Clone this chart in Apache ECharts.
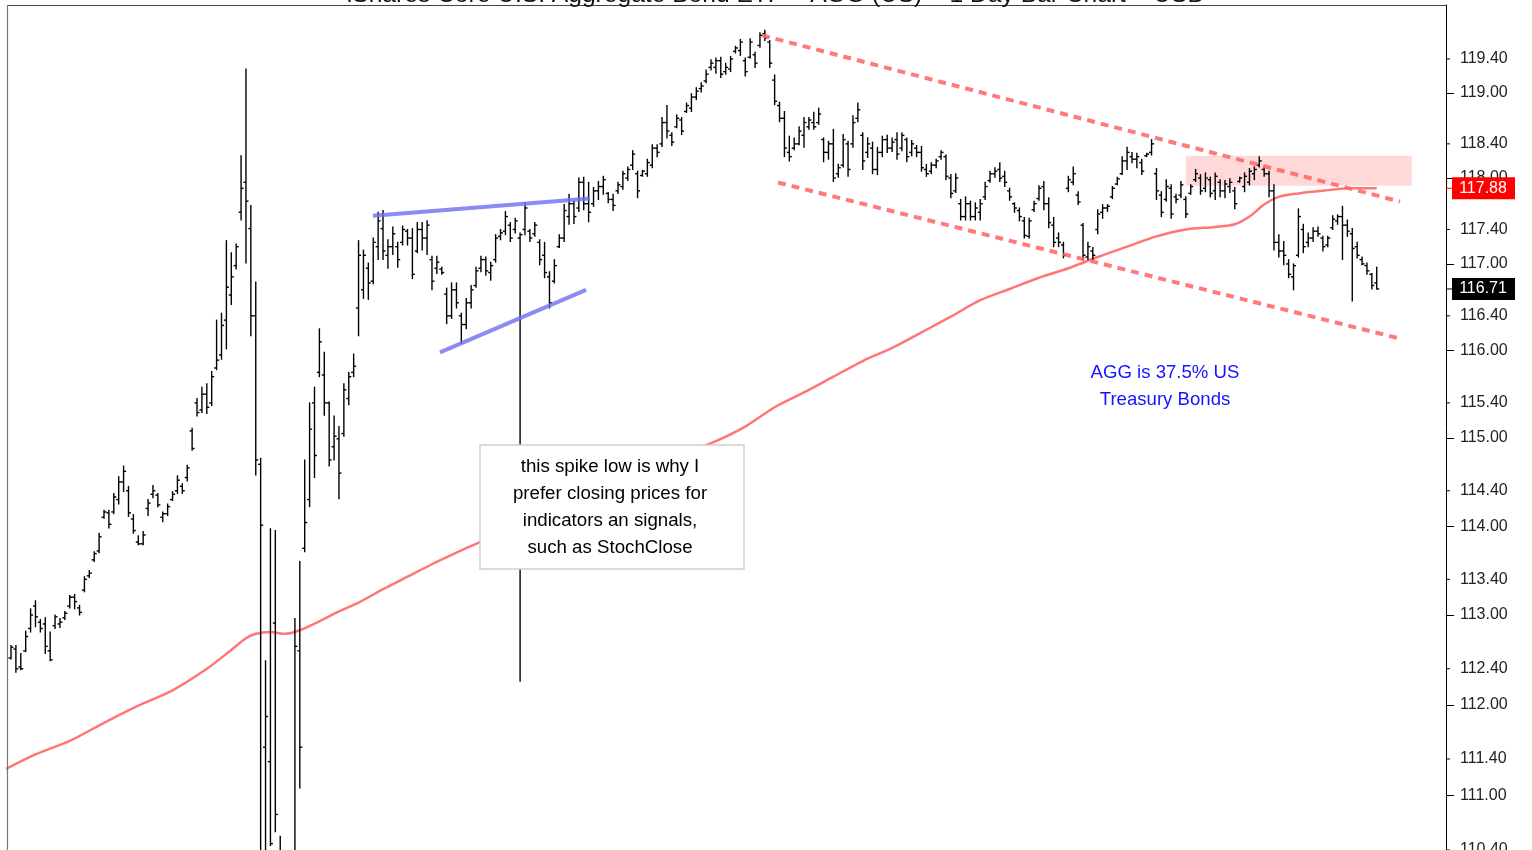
<!DOCTYPE html>
<html><head><meta charset="utf-8">
<script src="https://cdn.jsdelivr.net/npm/echarts@6/dist/echarts.min.js"></script>
<style>html,body{margin:0;padding:0;background:#fff}#main{width:1532px;height:850px}</style>
</head><body><div id="main"></div>
<script>
// ---- daily OHLC bars (USD) ----
const opens = [112.52,112.62,112.42,112.60,112.85,113.10,112.92,112.90,112.60,112.88,112.90,112.97,113.10,113.20,113.08,113.28,113.44,113.62,113.72,114.10,
114.15,114.16,114.30,114.50,114.40,114.08,113.82,113.80,114.20,114.36,114.35,114.10,114.14,114.30,114.40,114.45,114.55,115.08,115.40,115.32,
115.50,115.40,115.80,115.95,116.35,116.64,116.98,117.60,117.95,117.41,116.40,114.70,111.53,111.37,112.91,110.30,108.00,107.00,108.50,112.60,
113.75,114.30,115.40,115.75,115.72,115.40,114.90,114.99,115.05,115.45,115.75,116.49,116.70,116.95,116.80,117.20,117.41,117.10,117.20,117.20,
117.25,117.38,117.30,117.15,117.40,117.30,117.05,116.95,116.94,116.65,116.40,116.70,116.40,116.30,116.55,116.75,116.95,117.05,116.90,117.05,
117.32,117.38,117.45,117.40,117.30,117.40,117.38,117.35,117.25,117.10,116.85,116.80,117.20,117.30,117.55,117.70,117.65,117.95,117.70,117.70,
117.85,117.90,117.82,117.75,117.85,117.90,118.00,118.15,118.05,118.03,118.05,118.15,118.35,118.40,118.65,118.50,118.60,118.68,118.78,118.82,
118.95,119.05,119.14,119.30,119.30,119.38,119.25,119.28,119.49,119.50,119.38,119.42,119.45,119.56,119.70,119.60,119.15,118.85,118.70,118.30,
118.35,118.40,118.50,118.60,118.65,118.65,118.45,118.30,118.40,118.05,118.15,118.40,118.40,118.70,118.50,118.30,118.35,118.10,118.30,118.45,
118.35,118.45,118.35,118.45,118.30,118.35,118.30,118.10,118.08,118.15,118.25,118.25,118.00,117.85,117.70,117.55,117.70,117.55,117.60,117.78,
117.97,118.05,118.10,118.02,117.85,117.70,117.62,117.50,117.32,117.63,117.76,117.90,117.70,117.45,117.30,117.22,117.88,117.95,117.80,117.45,
117.08,117.15,117.40,117.60,117.65,117.78,117.93,118.05,118.20,118.25,118.22,118.18,118.26,118.30,118.05,117.80,117.75,117.88,117.78,117.80,
117.75,117.82,117.98,118.00,117.88,117.98,117.85,117.95,117.85,117.90,117.85,117.96,117.90,117.95,118.05,118.15,118.10,118.05,117.85,117.25,
117.15,117.00,116.85,117.10,117.40,117.25,117.30,117.38,117.30,117.22,117.42,117.50,117.55,117.45,117.35,117.20,117.05,116.98,116.88,116.78];
const highs = [112.66,112.66,112.57,112.82,113.07,113.16,112.95,112.97,112.81,113.00,112.96,113.04,113.22,113.23,113.11,113.43,113.50,113.71,113.92,114.18,
114.18,114.37,114.56,114.68,114.45,114.13,113.89,113.94,114.30,114.46,114.37,114.16,114.25,114.39,114.57,114.48,114.69,115.11,115.45,115.58,
115.62,115.76,116.35,116.43,117.27,117.13,117.23,118.26,119.28,117.68,116.79,114.77,112.49,113.97,113.95,110.55,110.00,109.50,112.96,113.60,
114.75,115.40,115.58,116.25,115.98,115.41,115.25,115.13,115.62,115.75,115.96,117.27,117.16,117.01,117.30,117.60,117.62,117.28,117.43,117.25,
117.44,117.40,117.41,117.48,117.48,117.50,117.09,117.09,116.96,116.72,116.78,116.78,116.43,116.60,116.75,116.96,117.09,117.08,117.02,117.34,
117.40,117.61,117.48,117.53,117.36,117.71,117.40,117.48,117.28,117.25,116.91,117.05,117.34,117.69,117.81,117.73,118.00,118.01,117.95,117.89,
117.96,118.02,117.83,117.81,117.95,118.08,118.13,118.32,118.08,118.09,118.22,118.39,118.39,118.71,118.85,118.53,118.74,118.71,118.88,118.99,
119.06,119.12,119.27,119.39,119.41,119.42,119.35,119.43,119.55,119.63,119.41,119.64,119.48,119.71,119.74,119.62,119.21,118.89,118.78,118.49,
118.47,118.60,118.71,118.71,118.77,118.82,118.47,118.43,118.57,118.16,118.51,118.43,118.73,118.88,118.53,118.47,118.42,118.36,118.49,118.50,
118.47,118.53,118.53,118.47,118.44,118.38,118.37,118.16,118.18,118.22,118.32,118.27,118.04,118.05,117.75,117.78,117.73,117.71,117.75,117.95,
118.08,118.12,118.18,118.08,117.88,117.71,117.65,117.54,117.53,117.73,117.91,117.96,117.77,117.54,117.36,117.25,118.02,118.13,117.84,117.47,
117.25,117.19,117.63,117.69,117.69,117.90,118.01,118.25,118.36,118.30,118.29,118.22,118.29,118.45,118.11,117.84,117.98,117.92,117.81,117.96,
117.78,117.92,118.10,118.04,118.06,118.01,118.06,117.98,117.97,117.99,117.89,118.01,118.06,118.11,118.13,118.25,118.13,118.08,117.92,117.34,
117.26,117.05,117.00,117.64,117.46,117.36,117.42,117.43,117.32,117.32,117.56,117.57,117.67,117.51,117.41,117.25,117.08,117.01,116.89,116.96];
const lows = [112.51,112.36,112.39,112.59,112.81,112.87,112.81,112.57,112.49,112.85,112.86,112.95,113.08,113.07,113.00,113.26,113.42,113.60,113.70,114.09,
113.98,114.14,114.25,114.39,114.11,113.92,113.79,113.79,114.12,114.32,114.22,114.05,114.12,114.29,114.37,114.37,114.51,114.86,115.25,115.29,
115.28,115.37,115.78,115.90,116.02,116.53,116.94,117.51,117.01,116.17,114.58,109.00,109.30,110.45,110.60,106.00,102.50,101.50,107.00,111.08,
113.71,114.22,114.55,115.70,115.26,114.68,114.75,114.31,115.02,115.38,115.70,116.17,116.60,116.59,116.77,117.05,117.05,116.95,117.11,116.96,
117.22,117.22,116.83,117.13,117.16,117.11,116.70,116.89,116.88,116.31,116.37,116.49,116.08,116.25,116.49,116.73,116.91,116.87,116.81,117.02,
117.28,117.34,117.26,117.36,112.26,117.34,117.26,117.32,116.99,116.84,116.49,116.78,117.19,117.26,117.46,117.47,117.61,117.63,117.49,117.67,
117.75,117.81,117.71,117.62,117.82,117.87,117.97,118.10,117.77,118.02,118.02,118.12,118.25,118.37,118.47,118.38,118.59,118.51,118.77,118.78,
118.92,119.01,119.12,119.27,119.23,119.18,119.22,119.25,119.47,119.44,119.20,119.41,119.30,119.54,119.62,119.30,118.86,118.66,118.25,118.20,
118.33,118.39,118.36,118.57,118.57,118.63,118.19,118.22,117.96,118.01,118.13,118.02,118.36,118.66,118.10,118.24,118.05,118.04,118.25,118.30,
118.31,118.22,118.32,118.19,118.26,118.25,118.08,118.02,118.05,118.12,118.22,117.98,117.77,117.83,117.51,117.51,117.51,117.51,117.51,117.75,
117.95,118.01,117.96,117.90,117.74,117.60,117.50,117.30,117.30,117.61,117.74,117.63,117.42,117.20,117.20,117.07,117.84,117.92,117.69,117.05,
117.05,117.05,117.35,117.53,117.61,117.76,117.92,118.04,118.10,118.18,118.12,118.04,118.25,118.27,117.75,117.55,117.73,117.53,117.71,117.77,
117.54,117.81,117.96,117.81,117.84,117.78,117.75,117.78,117.77,117.83,117.64,117.95,117.84,117.92,117.98,118.13,118.02,117.78,117.16,117.08,
116.99,116.84,116.70,117.08,117.13,117.20,117.26,117.32,117.15,117.20,117.40,117.46,117.05,117.32,116.57,117.07,116.99,116.88,116.71,116.71];
const closes = [112.64,112.40,112.40,112.76,113.00,112.98,112.85,112.65,112.50,112.98,112.92,113.02,113.20,113.15,113.03,113.40,113.47,113.69,113.88,114.16,
114.02,114.33,114.50,114.62,114.15,113.95,113.80,113.90,114.26,114.40,114.24,114.14,114.22,114.36,114.52,114.40,114.66,114.88,115.29,115.50,
115.35,115.70,115.89,116.29,116.73,116.85,117.20,117.88,117.73,116.40,114.75,114.01,111.87,110.47,110.79,107.50,107.00,106.50,112.65,111.53,
114.04,115.10,114.80,116.10,115.40,114.75,115.02,114.60,115.55,115.70,115.82,117.10,117.10,116.78,117.25,117.50,117.15,117.20,117.35,117.05,
117.40,117.30,116.88,117.40,117.30,117.45,116.80,117.02,116.90,116.40,116.70,116.55,116.30,116.55,116.70,116.92,117.05,116.92,116.98,117.30,
117.36,117.55,117.30,117.50,117.34,117.65,117.30,117.45,117.05,116.90,116.55,116.98,117.30,117.62,117.70,117.55,117.95,117.70,117.60,117.85,
117.90,117.98,117.75,117.68,117.92,118.05,118.10,118.28,117.85,118.08,118.18,118.35,118.30,118.65,118.55,118.42,118.70,118.55,118.85,118.95,
119.02,119.08,119.22,119.35,119.38,119.22,119.30,119.40,119.53,119.60,119.25,119.60,119.35,119.68,119.65,119.35,118.90,118.70,118.35,118.25,
118.40,118.55,118.65,118.68,118.60,118.75,118.30,118.40,118.00,118.12,118.45,118.10,118.65,118.80,118.20,118.40,118.10,118.30,118.45,118.35,
118.42,118.28,118.50,118.25,118.40,118.30,118.12,118.05,118.15,118.20,118.30,118.02,117.82,118.00,117.55,117.70,117.55,117.65,117.70,117.90,
118.05,118.08,118.00,117.95,117.78,117.65,117.55,117.33,117.50,117.70,117.88,117.70,117.48,117.25,117.25,117.10,117.98,118.05,117.72,117.10,
117.20,117.10,117.58,117.65,117.67,117.88,117.99,118.20,118.30,118.22,118.25,118.08,118.28,118.40,117.85,117.60,117.90,117.58,117.75,117.92,
117.58,117.90,118.05,117.85,118.00,117.82,118.02,117.85,117.93,117.95,117.70,118.00,118.02,118.08,118.10,118.20,118.05,117.85,117.25,117.15,
117.10,116.88,116.98,117.55,117.20,117.30,117.38,117.35,117.20,117.30,117.52,117.55,117.45,117.38,117.18,117.10,117.00,116.92,116.75,116.71];

// ---- moving average (red line), sampled at bar indices ----
const maIndex = [-1,5,12,19,26,33,40,45,48,50,53,56,59,63,67,71,76,81,86,91,95,100,106,112,118,124,130,136,143,150,156,162,168,174,180,186,192,198,204,210,216,222,228,234,240,246,250,253,256,259,263,268,273,279];
const maValues = [111.29,111.45,111.60,111.80,111.99,112.16,112.40,112.61,112.74,112.79,112.81,112.79,112.83,112.93,113.04,113.14,113.29,113.43,113.57,113.70,113.80,113.92,114.06,114.21,114.36,114.50,114.65,114.80,114.94,115.13,115.35,115.52,115.70,115.88,116.03,116.21,116.39,116.58,116.71,116.84,116.95,117.08,117.20,117.32,117.40,117.43,117.46,117.55,117.69,117.78,117.82,117.85,117.88,117.88];

// ---- axis tick labels ----
const majorTicks = [111,112,113,114,115,116,117,118,119];
const minorTicks = [110.4,111.4,112.4,113.4,114.4,115.4,116.4,117.4,118.4,119.4];

// ---- drawn annotations: [barIndex, price] ----
const blueUpper = [[73.95,117.56],[118.28,117.76]];
const blueLower = [[87.64,115.98],[117.47,116.70]];
const redUpper  = [[153.42,119.68],[283.76,117.725]];
const redLower  = [[156.69,117.947],[283.15,116.146]];
const resistZone = [[240,118.26],[286.15,117.91]];

const titleText = 'iShares Core U.S. Aggregate Bond ETF \u2013 AGG (US) \u2013 1 Day Bar Chart \u2013 USD';
const noteLines = ['this spike low is why I','prefer closing prices for','indicators an signals,','such as StochClose'];
const blueNote = 'AGG is 37.5% US\nTreasury Bonds';

const LN = Math.log;
const FONT = '"Liberation Sans", Arial, Helvetica, sans-serif';
const barData = opens.map((o,i)=>[i, LN(o), LN(highs[i]), LN(lows[i]), LN(closes[i])]);
const maData = maIndex.map((x,i)=>[x, LN(maValues[i])]);
const seg = (s, ls) => [{coord:[s[0][0], LN(s[0][1])], lineStyle:ls},{coord:[s[1][0], LN(s[1][1])]}];

const yMin = LN(110.40), yMax = LN(120.04);

function renderOHLC(params, api){
  const i = api.value(0);
  const pO = api.coord([i, api.value(1)]);
  const pH = api.coord([i, api.value(2)]);
  const pL = api.coord([i, api.value(3)]);
  const pC = api.coord([i, api.value(4)]);
  const x = pH[0];
  const st = {stroke:'#000', lineWidth:1.4};
  return {type:'group', children:[
    {type:'line', shape:{x1:x, y1:pH[1]-0.5, x2:x, y2:pL[1]+0.5}, style:st},
    {type:'line', shape:{x1:x-2.5, y1:pO[1], x2:x, y2:pO[1]}, style:st},
    {type:'line', shape:{x1:x, y1:pC[1], x2:x+2.5, y2:pC[1]}, style:st}
  ]};
}

const blueStyle = {color:'rgba(110,110,240,0.8)', width:4, type:'solid'};
const redStyle = {color:'rgba(255,100,100,0.85)', width:4, type:[8,6]};

const chart = echarts.init(document.getElementById('main'), null, {renderer:'canvas'});
chart.setOption({
  animation:false,
  backgroundColor:'#fff',
  grid:{left:7, top:5, width:1439, height:845, show:false, containLabel:false, outerBoundsMode:'none'},
  xAxis:{type:'value', min:-0.817, max:293.15, show:false},
  yAxis:{type:'value', position:'right', min:yMin, max:yMax, scale:true,
     axisLine:{show:true, onZero:false, lineStyle:{color:'#000', width:1}},
     axisTick:{show:true, length:8, customValues:majorTicks.map(LN), lineStyle:{color:'#000'}},
     axisLabel:{show:true, customValues:majorTicks.concat(minorTicks).map(LN), formatter:v=>Math.exp(v).toFixed(2),
       margin:14, color:'#222', fontSize:16, fontFamily:FONT, padding:[3,0,0,0]},
     splitLine:{show:false}},
  series:[
    {type:'line', name:'zone', data:[], z:1, silent:true,
     markArea:{silent:true, itemStyle:{color:'rgba(255,170,170,0.45)'},
       data:[[{coord:[resistZone[0][0], LN(resistZone[0][1])]},{coord:[resistZone[1][0], LN(resistZone[1][1])]}]]}},
    {type:'line', name:'MA', data:maData, z:2, smooth:0.3, showSymbol:false, silent:true,
     lineStyle:{color:'#ff7676', width:2.5}},
    {type:'custom', name:'AGG', data:barData, renderItem:renderOHLC, clip:true, z:3, silent:true,
     encode:{x:0, y:[1,2,3,4]}},
    {type:'line', name:'lines', data:[], z:4, silent:true,
     markLine:{silent:true, symbol:['none','none'], label:{show:false}, animation:false,
       data:[seg(blueUpper, blueStyle), seg(blueLower, blueStyle), seg(redUpper, redStyle), seg(redLower, redStyle)]}}
  ]
});

const g = [
  {type:'line', z:10, shape:{x1:7, y1:5.5, x2:1446, y2:5.5}, style:{stroke:'#444', lineWidth:1}},
  {type:'line', z:10, shape:{x1:7.5, y1:5, x2:7.5, y2:850}, style:{stroke:'#777', lineWidth:1.2}},
  {type:'text', x:776, y:-5, z:20, style:{text:titleText, fontSize:24.6, fontFamily:FONT, fill:'#111', textAlign:'center', textVerticalAlign:'middle'}},
  {type:'rect', shape:{x:480, y:445, width:264, height:124}, z:20, style:{fill:'#fff', stroke:'#cfcfcf', lineWidth:1.5}},
  {type:'text', x:610, y:507, z:21, style:{text:noteLines.join('\n'), fontSize:18.7, lineHeight:27, fontFamily:FONT, fill:'#000', textAlign:'center', textVerticalAlign:'middle'}},
  {type:'text', x:1165, y:386, z:21, style:{text:blueNote, fontSize:18.6, lineHeight:27, fontFamily:FONT, fill:'#1414ff', textAlign:'center', textVerticalAlign:'middle'}}
];
minorTicks.forEach(v=>{
  const y = chart.convertToPixel({yAxisIndex:0}, LN(v));
  g.push({type:'line', z:10, shape:{x1:1446, y1:y, x2:1450, y2:y}, style:{stroke:'#000', lineWidth:1}});
});
const tags = [
  {v:maValues[maValues.length-1], bg:'#ff0000'},
  {v:closes[closes.length-1], bg:'#000000'}
];
tags.forEach(t=>{
  const y = chart.convertToPixel({yAxisIndex:0}, LN(t.v));
  g.push({type:'line', z:22, shape:{x1:1446, y1:y, x2:1453, y2:y}, style:{stroke:t.bg, lineWidth:1}});
  g.push({type:'rect', z:22, shape:{x:1452, y:y-11, width:63, height:22}, style:{fill:t.bg}});
  g.push({type:'text', z:23, x:1483, y:y, style:{text:t.v.toFixed(2), fontSize:16, fontFamily:FONT, fill:'#fff', textAlign:'center', textVerticalAlign:'middle'}});
});
chart.setOption({graphic:g});
</script>
</body></html>
